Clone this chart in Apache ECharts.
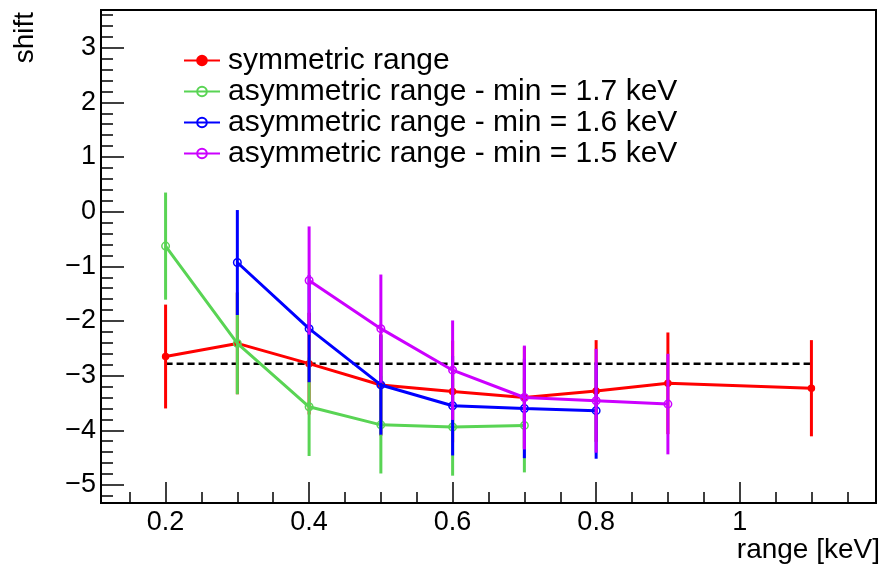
<!DOCTYPE html>
<html><head><meta charset="utf-8">
<script src="https://cdn.jsdelivr.net/npm/echarts@6/dist/echarts.min.js"></script>
<style>html,body{margin:0;padding:0;background:#fff}#c{width:882px;height:567px}</style>
</head><body><div id="c"></div>
<script>
// ---- data ----
const xSym = [0.2, 0.3, 0.4, 0.5, 0.6, 0.7, 0.8, 0.9, 1.1];
const ySym = [-2.65, -2.41, -2.78, -3.17, -3.29, -3.40, -3.28, -3.14, -3.23];
const eSym = [0.95, 0.93, 0.93, 0.93, 0.93, 0.93, 0.93, 0.93, 0.88];

const x17 = [0.2, 0.3, 0.4, 0.5, 0.6, 0.7];
const y17 = [-0.63, -2.41, -3.57, -3.90, -3.94, -3.91];
const e17 = [0.98, 0.93, 0.90, 0.89, 0.89, 0.86];

const x16 = [0.3, 0.4, 0.5, 0.6, 0.7, 0.8];
const y16 = [-0.93, -2.14, -3.17, -3.55, -3.60, -3.64];
const e16 = [0.96, 0.98, 0.91, 0.91, 0.91, 0.88];

const x15 = [0.4, 0.5, 0.6, 0.7, 0.8, 0.9];
const y15 = [-1.26, -2.14, -2.90, -3.40, -3.46, -3.52];
const e15 = [0.99, 0.99, 0.91, 0.95, 0.95, 0.92];

const refX = [0.2, 1.1];
const refY = [-2.78, -2.78];

const names = ['symmetric range', 'asymmetric range - min = 1.7 keV',
               'asymmetric range - min = 1.6 keV', 'asymmetric range - min = 1.5 keV'];

const xMajor = [0.2, 0.4, 0.6, 0.8, 1];
const xMinor = [0.15, 0.25, 0.3, 0.35, 0.45, 0.5, 0.55, 0.65, 0.7, 0.75, 0.85, 0.9, 0.95, 1.05, 1.1, 1.15];
const yMajor = [-5, -4, -3, -2, -1, 0, 1, 2, 3];
const yMinor = [-5.2, -4.8, -4.6, -4.4, -4.2, -3.8, -3.6, -3.4, -3.2, -2.8, -2.6, -2.4, -2.2,
                -1.8, -1.6, -1.4, -1.2, -0.8, -0.6, -0.4, -0.2, 0.2, 0.4, 0.6, 0.8,
                1.2, 1.4, 1.6, 1.8, 2.2, 2.4, 2.6, 2.8, 3.2, 3.4, 3.6];

const X_MIN = 0.11, X_MAX = 1.19, Y_MIN = -5.33, Y_MAX = 3.69;
const FONT = 'Liberation Sans';
const colors = ['#ff0000', '#59d454', '#0000ff', '#cc00ff'];

function fmt(v) { return String(v).replace('-', '\u2212'); }

function errSeries(xs, ys, es, color, z) {
  return {
    type: 'custom', name: 'err' + z, z: z, silent: true,
    data: xs.map((x, i) => [x, ys[i], es[i]]),
    encode: { x: 0, y: 1 },
    renderItem: function (p, api) {
      const x = api.value(0), y = api.value(1), e = api.value(2);
      const a = api.coord([x, y + e]), b = api.coord([x, y - e]);
      return { type: 'line', shape: { x1: a[0], y1: a[1], x2: b[0], y2: b[1] },
               style: { stroke: color, lineWidth: 3 } };
    }
  };
}
function lineSeries(name, xs, ys, color, filled, z) {
  return {
    type: 'line', name: name, z: z, color: color,
    data: xs.map((x, i) => [x, ys[i]]),
    symbol: 'circle', symbolSize: filled ? 6 : 7.5, showSymbol: true,
    itemStyle: { color: filled ? color : 'rgba(0,0,0,0)', borderColor: color, borderWidth: 1.5 },
    lineStyle: { color: color, width: 3 },
    emphasis: { disabled: true }
  };
}

const tickStyle = { color: '#000', width: 1.5 };
const chart = echarts.init(document.getElementById('c'));
chart.setOption({
  animation: false,
  backgroundColor: '#fff',
  grid: { left: 101, top: 10, right: 6, bottom: 64, show: true, borderColor: '#000', borderWidth: 2, backgroundColor: 'rgba(0,0,0,0)' },
  xAxis: [
    { type: 'value', min: X_MIN, max: X_MAX, position: 'bottom',
      axisLine: { show: false, onZero: false }, splitLine: { show: false },
      axisTick: { inside: true, length: 21, customValues: xMajor, lineStyle: tickStyle },
      axisLabel: { customValues: xMajor, margin: 6, fontSize: 27, fontFamily: FONT, color: '#000', formatter: fmt } },
    { type: 'value', min: X_MIN, max: X_MAX, position: 'bottom',
      axisLine: { show: false, onZero: false }, splitLine: { show: false }, axisLabel: { show: false },
      axisTick: { inside: true, length: 11, customValues: xMinor, lineStyle: tickStyle } }
  ],
  yAxis: [
    { type: 'value', min: Y_MIN, max: Y_MAX, position: 'left',
      axisLine: { show: false, onZero: false }, splitLine: { show: false },
      axisTick: { inside: true, length: 23, customValues: yMajor, lineStyle: tickStyle },
      axisLabel: { customValues: yMajor, margin: 5, fontSize: 27, fontFamily: FONT, color: '#000', formatter: fmt } },
    { type: 'value', min: Y_MIN, max: Y_MAX, position: 'left',
      axisLine: { show: false, onZero: false }, splitLine: { show: false }, axisLabel: { show: false },
      axisTick: { inside: true, length: 12, customValues: yMinor, lineStyle: tickStyle } }
  ],
  legend: {
    data: names, orient: 'vertical', left: 178, top: 40,
    itemWidth: 36, itemHeight: 12, itemGap: 0,
    textStyle: { fontSize: 30, fontFamily: FONT, color: '#000', lineHeight: 31, padding: [0, 0, 0, 3] },
    selectedMode: false
  },
  graphic: [
    { type: 'text', x: 880, y: 550, style: { text: 'range [keV]', align: 'right', verticalAlign: 'middle', font: '28px "Liberation Sans"', fill: '#000' } },
    { type: 'text', x: 25, y: 12, rotation: Math.PI / 2, style: { text: 'shift', align: 'right', verticalAlign: 'middle', font: '28px "Liberation Sans"', fill: '#000' } }
  ],
  series: [
    { type: 'line', name: 'ref', z: 1, data: refX.map((x, i) => [x, refY[i]]), symbol: 'none',
      lineStyle: { color: '#000', width: 2.5, type: [7, 4] }, silent: true },
    errSeries(xSym, ySym, eSym, colors[0], 2),
    lineSeries(names[0], xSym, ySym, colors[0], true, 3),
    errSeries(x17, y17, e17, colors[1], 4),
    lineSeries(names[1], x17, y17, colors[1], false, 5),
    errSeries(x16, y16, e16, colors[2], 6),
    lineSeries(names[2], x16, y16, colors[2], false, 7),
    errSeries(x15, y15, e15, colors[3], 8),
    lineSeries(names[3], x15, y15, colors[3], false, 9)
  ]
});
</script></body></html>
